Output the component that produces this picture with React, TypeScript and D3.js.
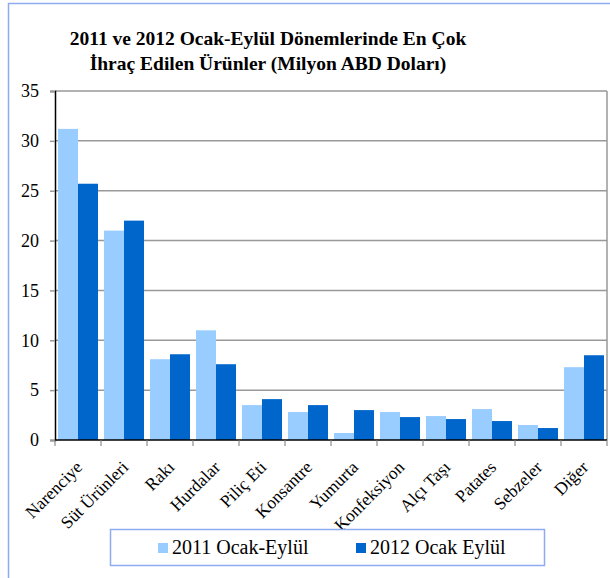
import React, { useRef, useEffect } from "react";
import * as d3 from "d3";

const categories = [
  "Narenciye", "Süt Ürünleri", "Rakı", "Hurdalar", "Piliç Eti", "Konsantre",
  "Yumurta", "Konfeksiyon", "Alçı Taşı", "Patates", "Sebzeler", "Diğer",
];
const series2011 = [31.2, 21.0, 8.1, 11.0, 3.5, 2.8, 0.7, 2.8, 2.4, 3.1, 1.5, 7.3];
const series2012 = [25.7, 22.0, 8.6, 7.6, 4.1, 3.5, 3.0, 2.3, 2.1, 1.9, 1.2, 8.5];
const seriesNames = ["2011 Ocak-Eylül", "2012 Ocak Eylül"];
const seriesColors = ["#99ccff", "#0066cc"];
const yTicks = [0, 5, 10, 15, 20, 25, 30, 35];
const titleLines = [
  "2011 ve 2012 Ocak-Eylül Dönemlerinde En Çok",
  "İhraç Edilen Ürünler (Milyon ABD Doları)",
];

const width = 610;
const height = 578;
const plot = { left: 55, right: 607, top: 91, bottom: 440 };
const font = "Liberation Serif, DejaVu Serif, serif";

const App = () => {
  const svgRef = useRef(null);

  useEffect(() => {
    const svg = d3.select(svgRef.current);
    svg.selectAll("*").remove();

    const x = d3.scaleBand().domain(categories).range([plot.left, plot.right]).paddingInner(0.13).paddingOuter(0.065);
    const xs = d3.scaleBand().domain(seriesNames).range([0, x.bandwidth()]);
    const y = d3.scaleLinear().domain([0, 35]).range([plot.bottom, plot.top]);

    // outer frame
    svg.append("rect")
      .attr("x", 8.5).attr("y", 3.5).attr("width", 700).attr("height", 700)
      .attr("fill", "white").attr("stroke", "#8eaaf0").attr("stroke-width", 1.5);

    // title
    svg.append("g").selectAll("text")
      .data(titleLines)
      .join("text")
      .attr("x", 268)
      .attr("y", (d, i) => 45 + i * 25)
      .attr("text-anchor", "middle")
      .style("font-family", font)
      .attr("font-weight", "bold")
      .attr("font-size", 19.5)
      .text(d => d);

    // grid
    svg.append("g").selectAll("line")
      .data(yTicks.filter(t => t > 0))
      .join("line")
      .attr("x1", plot.left).attr("x2", plot.right)
      .attr("y1", d => y(d)).attr("y2", d => y(d))
      .attr("stroke", "#999").attr("stroke-width", 1.5);

    svg.append("line")
      .attr("x1", plot.right).attr("x2", plot.right)
      .attr("y1", plot.top).attr("y2", plot.bottom)
      .attr("stroke", "#999").attr("stroke-width", 1.5);

    // bars
    const data = categories.map((c, i) => ({ c, vals: [series2011[i], series2012[i]] }));
    svg.append("g").selectAll("g")
      .data(data)
      .join("g")
      .attr("transform", d => `translate(${x(d.c)},0)`)
      .selectAll("rect")
      .data(d => d.vals.map((v, k) => ({ v, k })))
      .join("rect")
      .attr("x", d => xs(seriesNames[d.k]))
      .attr("width", xs.bandwidth())
      .attr("y", d => y(d.v))
      .attr("height", d => y(0) - y(d.v))
      .attr("fill", d => seriesColors[d.k]);

    // y axis
    const yAxis = svg.append("g")
      .attr("transform", `translate(${plot.left},0)`)
      .call(d3.axisLeft(y).tickValues(yTicks).tickSize(5).tickPadding(11));
    yAxis.select(".domain").attr("stroke", "#000").attr("stroke-width", 1.5);
    yAxis.selectAll(".tick line").attr("stroke", "#999").attr("stroke-width", 1.5);
    yAxis.selectAll("text").style("font-family", font).attr("font-size", 18).attr("fill", "#000");

    // x axis
    const xAxisG = svg.append("g").attr("transform", `translate(0,${plot.bottom})`);
    xAxisG.append("line")
      .attr("x1", plot.left).attr("x2", plot.right)
      .attr("stroke", "#000").attr("stroke-width", 1.5);
    const step = x.step();
    xAxisG.selectAll("line.tk")
      .data(d3.range(categories.length + 1))
      .join("line")
      .attr("class", "tk")
      .attr("x1", i => plot.left + i * step).attr("x2", i => plot.left + i * step)
      .attr("y1", 0).attr("y2", 6)
      .attr("stroke", "#777").attr("stroke-width", 1);
    xAxisG.selectAll("text")
      .data(categories)
      .join("text")
      .attr("transform", d => `translate(${x(d) + x.bandwidth() / 2 + 1},24) rotate(-45)`)
      .attr("text-anchor", "end")
      .attr("dy", "0.35em")
      .style("font-family", font)
      .attr("font-size", 17.5)
      .text(d => d);

    // legend
    const legend = svg.append("g");
    legend.append("rect")
      .attr("x", 110.5).attr("y", 529.5).attr("width", 434).attr("height", 36)
      .attr("fill", "white").attr("stroke", "#8eaaf0").attr("stroke-width", 1.5);
    const legendX = [158, 356];
    const items = legend.selectAll("g.item")
      .data(seriesNames)
      .join("g")
      .attr("class", "item")
      .attr("transform", (d, i) => `translate(${legendX[i]},543)`);
    items.append("rect")
      .attr("width", 10).attr("height", 10)
      .attr("fill", (d, i) => seriesColors[i]);
    items.append("text")
      .attr("x", 14).attr("y", 11)
      .style("font-family", font)
      .attr("font-size", 20)
      .text(d => d);
  }, []);

  return (
    <div style={{ position: "absolute", left: 0, top: 0 }}>
      <svg ref={svgRef} width={width} height={height} style={{ display: "block" }}></svg>
    </div>
  );
};

export default App;
